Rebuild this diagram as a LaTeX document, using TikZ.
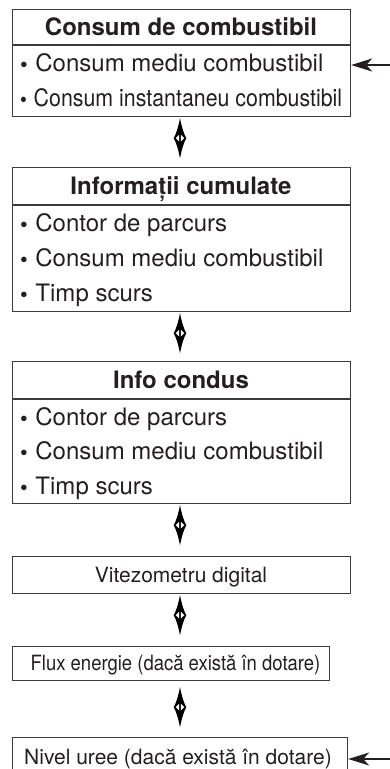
\documentclass[tikz,border=0pt]{standalone}
\usepackage{fontspec}
\setmainfont{TeX Gyre Heros}
\usepackage{graphicx}
\usetikzlibrary{arrows.meta}
\definecolor{ink}{HTML}{231F20}
\definecolor{frame}{HTML}{3C3C3C}
\tikzset{
  boxsty/.style={draw=frame, line width=1.2pt, inner sep=0pt, anchor=north west},
  sepline/.style={draw=frame, line width=1.1pt},
  titletxt/.style={font=\fontsize{24}{24}\selectfont\bfseries, text=ink, inner sep=0pt, anchor=base},
  itemtxt/.style={font=\fontsize{24}{24}\selectfont, text=ink, inner sep=0pt, anchor=base west},
  plaintxt/.style={font=\fontsize{21}{21}\selectfont, text=ink, inner sep=0pt, anchor=base},
  inarrow/.style={draw=ink, line width=1.1pt, -{Stealth[length=21pt,width=13pt,inset=6pt]}},
}
\newcommand\bul{\raisebox{-1pt}{\fontsize{22}{22}\selectfont\textbullet}\hspace{7.5pt}}
\newcommand\dblarrow[1]{%
  \fill[black, shift={(#1)}] (0,1) .. controls (2.0,11) and (4.0,17) .. (6.3,21)
     .. controls (4.0,25) and (2.0,31) .. (0,41)
     .. controls (-2.0,31) and (-4.0,25) .. (-6.3,21)
     .. controls (-4.0,17) and (-2.0,11) .. cycle;
  \fill[white, shift={(#1)}] (0.8,17.6) -- (4.3,21) -- (0.8,24.4) -- cycle
     (-0.8,17.6) -- (-4.3,21) -- (-0.8,24.4) -- cycle;}
\begin{document}
\begin{tikzpicture}[x=1pt,y=-1pt]
\useasboundingbox (0,0) rectangle (390,769);
\clip (0,0) rectangle (390,769);
% box 1
\node[boxsty, minimum width=338pt, minimum height=107pt] (b1) at (12,9) {};
\draw[sepline] (b1.west |- 0,45) -- (b1.east |- 0,45);
\node[titletxt] (t1) at (181,35.6) {Consum de combustibil};
\node[itemtxt] (i11) at (20,71.3) {\bul Consum mediu combustibil};
\node[itemtxt] (i12) at (20,106.9) {\scalebox{0.89}[1]{\bul Consum instantaneu combustibil}};
% box 2
\node[boxsty, minimum width=338pt, minimum height=144pt] (b2) at (12,167) {};
\draw[sepline] (b2.west |- 0,205) -- (b2.east |- 0,205);
\node[titletxt] (t2) at (181,194.6) {Informații cumulate};
\node[itemtxt] (i21) at (20,231.3) {\bul Contor de parcurs};
\node[itemtxt] (i22) at (20,266.6) {\bul Consum mediu combustibil};
\node[itemtxt] (i23) at (20,301.9) {\bul Timp scurs};
% box 3
\node[boxsty, minimum width=338pt, minimum height=142pt] (b3) at (12,361) {};
\draw[sepline] (b3.west |- 0,399) -- (b3.east |- 0,399);
\node[titletxt] (t3) at (181,388.6) {Info condus};
\node[itemtxt] (i31) at (20,425.3) {\bul Contor de parcurs};
\node[itemtxt] (i32) at (20,459.9) {\bul Consum mediu combustibil};
\node[itemtxt] (i33) at (20,494.3) {\bul Timp scurs};
% box 4
\node[boxsty, minimum width=338pt, minimum height=37pt] (b4) at (12,556) {};
\node[plaintxt] (t4) at (181,582) {Vitezometru digital};
% box 5
\node[boxsty, minimum width=317pt, minimum height=34pt] (b5) at (12,646) {};
\node[plaintxt] (t5) at (175.5,670.5) {\scalebox{0.88}[1]{Flux energie (dacă există în dotare)}};
% box 6
\node[boxsty, minimum width=335pt, minimum height=40pt] (b6) at (12,737) {};
\node[plaintxt] (t6) at (178,764.5) {Nivel uree (dacă există în dotare)};
% double arrows
\coordinate (ax) at (180,0);
\coordinate (a1) at (b1.south -| ax);
\coordinate (a2) at (b2.south -| ax);
\coordinate (a3) at (b3.south -| ax);
\coordinate (a4) at (b4.south -| ax);
\coordinate (a5) at ([yshift=-5pt]b5.south -| ax);
\dblarrow{a1}
\dblarrow{a2}
\dblarrow{a3}
\dblarrow{a4}
\dblarrow{a5}
% incoming arrows
\coordinate (in1) at (390,65);
\coordinate (in6) at (390,759);
\draw[inarrow] (in1) -- (in1 -| b1.east);
\draw[inarrow] (in6) -- (in6 -| b6.east);
\end{tikzpicture}
\end{document}
